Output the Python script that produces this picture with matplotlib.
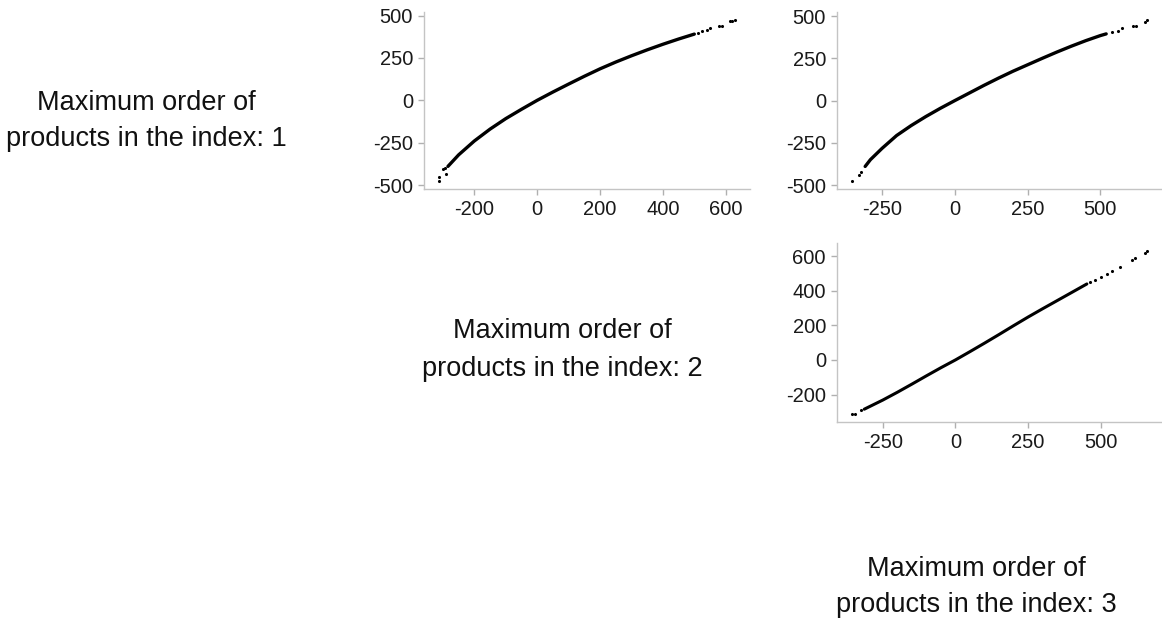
import matplotlib
matplotlib.use("Agg")
import matplotlib.pyplot as plt

plt.rcParams['font.family'] = ['Liberation Sans', 'DejaVu Sans']
plt.rcParams['axes.unicode_minus'] = False

labels = ["Maximum order of\nproducts in the index: 1",
          "Maximum order of\nproducts in the index: 2",
          "Maximum order of\nproducts in the index: 3"]

# panel order 2 (x) vs order 1 (y)
a_x = [-284, -250, -200, -150, -100, -50, 0, 50, 100, 150, 200, 250, 300, 350, 400, 450, 500]
a_y = [-390, -322, -240, -170, -108, -53, 0, 49, 96, 142, 186, 226, 263, 298, 331, 362, 391]
a_tail_x = [-313, -313, -289, -300, -294, 512, 524, 540, 550, 577, 587, 614, 621, 630]
a_tail_y = [-476, -452, -433, -408, -402, 398, 409, 415, 425, 440, 440, 468, 471, 474]

# panel order 3 (x) vs order 1 (y)
b_x = [-308, -290, -250, -200, -150, -100, -50, 0, 50, 100, 150, 200, 250, 300, 350, 400, 450, 500, 520]
b_y = [-390, -350, -283, -207, -148, -95, -46, 0, 45, 90, 133, 174, 212, 250, 287, 322, 355, 385, 395]
b_tail_x = [-354, -328, -323, 540, 561, 573, 613, 624, 653, 661]
b_tail_y = [-476, -443, -423, 404, 415, 429, 440, 440, 468, 477]

# panel order 3 (x) vs order 2 (y)
c_x = [-314, -250, -200, -150, -100, -50, 0, 50, 100, 150, 200, 250, 300, 350, 400, 453]
c_y = [-285, -232, -187, -140, -92, -45, 0, 48, 97, 147, 198, 248, 296, 343, 390, 440]
c_tail_x = [-357, -346, -325, 464, 480, 500, 521, 540, 567, 607, 619, 653, 661]
c_tail_y = [-312, -312, -289, 450, 465, 482, 500, 516, 540, 578, 588, 622, 630]

fig = plt.figure(figsize=(11.62, 6.23), dpi=100)
W, H = 1162, 623

def panel(left, top, right, bottom):
    return fig.add_axes([left / W, 1 - bottom / H, (right - left) / W, (bottom - top) / H])

def style(ax, xt, yt):
    for s in ['top', 'right']:
        ax.spines[s].set_visible(False)
    for s in ['left', 'bottom']:
        ax.spines[s].set_color('#c4c4c4')
        ax.spines[s].set_linewidth(1.0)
    ax.set_xticks(xt)
    ax.set_yticks(yt)
    ax.tick_params(colors='#b0b0b0', labelcolor='#1a1a1a', labelsize=14.5,
                   length=4, width=1, pad=4)

ax1 = panel(424, 12, 750, 189)
ax1.plot(a_x, a_y, color='black', lw=2.4, solid_capstyle='round')
ax1.scatter(a_tail_x, a_tail_y, s=5, color='black', linewidths=0)
style(ax1, [-200, 0, 200, 400, 600], [-500, -250, 0, 250, 500])

ax2 = panel(837, 12, 1162, 189)
ax2.plot(b_x, b_y, color='black', lw=2.4, solid_capstyle='round')
ax2.scatter(b_tail_x, b_tail_y, s=5, color='black', linewidths=0)
style(ax2, [-250, 0, 250, 500], [-500, -250, 0, 250, 500])

ax3 = panel(837, 243, 1162, 422)
ax3.plot(c_x, c_y, color='black', lw=2.2, solid_capstyle='round')
ax3.scatter(c_tail_x, c_tail_y, s=5, color='black', linewidths=0)
style(ax3, [-250, 0, 250, 500], [-200, 0, 200, 400, 600])

text_pos = [(146, 121), (562, 350), (976, 587)]
for lab, (tx, ty) in zip(labels, text_pos):
    fig.text(tx / W, 1 - ty / H, lab, ha='center', va='center',
             multialignment='center', fontsize=19.5, color='#111111',
             linespacing=1.55)

plt.savefig("out.png", dpi=100)
